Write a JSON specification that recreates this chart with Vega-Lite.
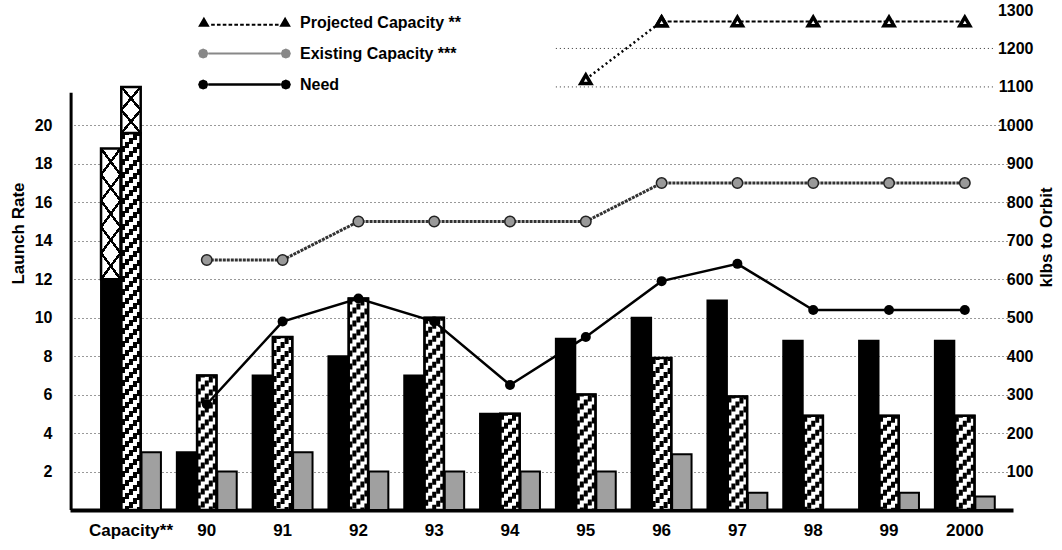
{
  "$schema": "https://vega.github.io/schema/vega-lite/v6.json",
  "width": 943,
  "height": 500,
  "autosize": {"type": "none"},
  "padding": {"left": 70, "top": 10, "right": 49, "bottom": 40},
  "background": "white",
  "config": {
    "view": {"stroke": null},
    "font": "Liberation Sans",
    "axis": {"labelFont": "Liberation Sans", "titleFont": "Liberation Sans", "labelFontWeight": "bold", "titleFontWeight": "bold", "labelColor": "black", "titleColor": "black"}
  },
  "datasets": {
    "bars": [
      {"year": "Capacity**", "series": "A", "v": 12}, {"year": "Capacity**", "series": "B", "v": 19.6}, {"year": "Capacity**", "series": "C", "v": 3},
      {"year": "90", "series": "A", "v": 3}, {"year": "90", "series": "B", "v": 7}, {"year": "90", "series": "C", "v": 2},
      {"year": "91", "series": "A", "v": 7}, {"year": "91", "series": "B", "v": 9}, {"year": "91", "series": "C", "v": 3},
      {"year": "92", "series": "A", "v": 8}, {"year": "92", "series": "B", "v": 11}, {"year": "92", "series": "C", "v": 2},
      {"year": "93", "series": "A", "v": 7}, {"year": "93", "series": "B", "v": 10}, {"year": "93", "series": "C", "v": 2},
      {"year": "94", "series": "A", "v": 5}, {"year": "94", "series": "B", "v": 5}, {"year": "94", "series": "C", "v": 2},
      {"year": "95", "series": "A", "v": 8.9}, {"year": "95", "series": "B", "v": 6}, {"year": "95", "series": "C", "v": 2},
      {"year": "96", "series": "A", "v": 10}, {"year": "96", "series": "B", "v": 7.9}, {"year": "96", "series": "C", "v": 2.9},
      {"year": "97", "series": "A", "v": 10.9}, {"year": "97", "series": "B", "v": 5.9}, {"year": "97", "series": "C", "v": 0.9},
      {"year": "98", "series": "A", "v": 8.8}, {"year": "98", "series": "B", "v": 4.9},
      {"year": "99", "series": "A", "v": 8.8}, {"year": "99", "series": "B", "v": 4.9}, {"year": "99", "series": "C", "v": 0.9},
      {"year": "2000", "series": "A", "v": 8.8}, {"year": "2000", "series": "B", "v": 4.9}, {"year": "2000", "series": "C", "v": 0.7}
    ],
    "tops": [
      {"year": "Capacity**", "series": "A", "lo": 12, "hi": 18.8},
      {"year": "Capacity**", "series": "B", "lo": 19.6, "hi": 22}
    ],
    "lines": [
      {"year": "90", "ord": 1990, "series": "Need", "k": 275},
      {"year": "91", "ord": 1991, "series": "Need", "k": 490},
      {"year": "92", "ord": 1992, "series": "Need", "k": 550},
      {"year": "93", "ord": 1993, "series": "Need", "k": 490},
      {"year": "94", "ord": 1994, "series": "Need", "k": 325},
      {"year": "95", "ord": 1995, "series": "Need", "k": 450},
      {"year": "96", "ord": 1996, "series": "Need", "k": 595},
      {"year": "97", "ord": 1997, "series": "Need", "k": 640},
      {"year": "98", "ord": 1998, "series": "Need", "k": 520},
      {"year": "99", "ord": 1999, "series": "Need", "k": 520},
      {"year": "2000", "ord": 2000, "series": "Need", "k": 520},
      {"year": "90", "ord": 1990, "series": "Existing", "k": 650},
      {"year": "91", "ord": 1991, "series": "Existing", "k": 650},
      {"year": "92", "ord": 1992, "series": "Existing", "k": 750},
      {"year": "93", "ord": 1993, "series": "Existing", "k": 750},
      {"year": "94", "ord": 1994, "series": "Existing", "k": 750},
      {"year": "95", "ord": 1995, "series": "Existing", "k": 750},
      {"year": "96", "ord": 1996, "series": "Existing", "k": 850},
      {"year": "97", "ord": 1997, "series": "Existing", "k": 850},
      {"year": "98", "ord": 1998, "series": "Existing", "k": 850},
      {"year": "99", "ord": 1999, "series": "Existing", "k": 850},
      {"year": "2000", "ord": 2000, "series": "Existing", "k": 850}
    ],
    "proj": [
      {"year": "95", "ord": 1995, "seg": "a", "k": 1120},
      {"year": "96", "ord": 1996, "seg": "a", "k": 1270},
      {"year": "96", "ord": 1996, "seg": "b", "k": 1270},
      {"year": "97", "ord": 1997, "seg": "b", "k": 1270},
      {"year": "98", "ord": 1998, "seg": "b", "k": 1270},
      {"year": "99", "ord": 1999, "seg": "b", "k": 1270},
      {"year": "2000", "ord": 2000, "seg": "b", "k": 1270}
    ],
    "grid": [{"g": 1100}, {"g": 1200}],
    "axisline": [{"lo": 0, "hi": 21.7}],
    "legend": [{"s": "Projected Capacity **"}, {"s": "Existing Capacity ***"}, {"s": "Need"}]
  },
  "layer": [
    {
      "layer": [
        {
          "data": {"name": "bars"},
          "mark": {"type": "bar", "stroke": "black", "strokeWidth": 2},
          "encoding": {
            "x": {
              "field": "year", "type": "nominal",
              "scale": {"domain": ["Capacity**", "90", "91", "92", "93", "94", "95", "96", "97", "98", "99", "2000"], "paddingInner": 0.21, "paddingOuter": 0.325, "align": 0.63},
              "axis": {"title": null, "labelAngle": 0, "labelFontSize": 17, "labelPadding": 12, "ticks": false, "domainWidth": 4, "domainColor": "black", "grid": false}
            },
            "xOffset": {"field": "series", "type": "nominal", "scale": {"domain": ["A", "B", "C"], "paddingInner": 0.04, "paddingOuter": 0}},
            "y": {
              "field": "v", "type": "quantitative",
              "scale": {"domain": [0, 26], "nice": false, "zero": true},
              "axis": {"orient": "left", "title": "Launch Rate", "values": [2, 4, 6, 8, 10, 12, 14, 16, 18, 20], "labelFontSize": 16, "labelPadding": 18, "ticks": false, "domain": false, "grid": true, "gridDash": [1, 3], "gridColor": "#333", "gridWidth": 1, "titleFontSize": 17, "titleAngle": 270, "titleX": -52, "titleY": 223, "titleBaseline": "middle", "titleAlign": "center"}
            },
            "fill": {"field": "series", "type": "nominal", "scale": {"domain": ["A", "B", "C"], "range": ["black", "white", "#a0a0a0"]}, "legend": null}
          }
        },
        {
          "data": {"name": "axisline"},
          "mark": {"type": "rule", "stroke": "black", "strokeWidth": 3},
          "encoding": {
            "x": {"datum": "Capacity**", "type": "nominal", "bandPosition": -0.5},
            "y": {"field": "hi", "type": "quantitative"},
            "y2": {"field": "lo"}
          }
        },
        {
          "data": {"name": "bars"},
          "transform": [{"filter": "datum.series == 'B'"}],
          "mark": {"type": "rule", "stroke": "black", "strokeWidth": 4, "strokeDash": [6, 7], "strokeDashOffset": 0, "strokeCap": "butt"},
          "encoding": {"x": {"field": "year", "type": "nominal", "bandPosition": 0.3664}, "y": {"field": "v", "type": "quantitative"}, "y2": {"datum": 0}}
        },
        {
          "data": {"name": "bars"},
          "transform": [{"filter": "datum.series == 'B'"}],
          "mark": {"type": "rule", "stroke": "black", "strokeWidth": 4, "strokeDash": [6, 7], "strokeDashOffset": 4, "strokeCap": "butt"},
          "encoding": {"x": {"field": "year", "type": "nominal", "bandPosition": 0.4332}, "y": {"field": "v", "type": "quantitative"}, "y2": {"datum": 0}}
        },
        {
          "data": {"name": "bars"},
          "transform": [{"filter": "datum.series == 'B'"}],
          "mark": {"type": "rule", "stroke": "black", "strokeWidth": 4, "strokeDash": [6, 7], "strokeDashOffset": 8, "strokeCap": "butt"},
          "encoding": {"x": {"field": "year", "type": "nominal", "bandPosition": 0.5}, "y": {"field": "v", "type": "quantitative"}, "y2": {"datum": 0}}
        },
        {
          "data": {"name": "bars"},
          "transform": [{"filter": "datum.series == 'B'"}],
          "mark": {"type": "rule", "stroke": "black", "strokeWidth": 4, "strokeDash": [6, 7], "strokeDashOffset": 12, "strokeCap": "butt"},
          "encoding": {"x": {"field": "year", "type": "nominal", "bandPosition": 0.5668}, "y": {"field": "v", "type": "quantitative"}, "y2": {"datum": 0}}
        },
        {
          "data": {"name": "bars"},
          "transform": [{"filter": "datum.series == 'B'"}],
          "mark": {"type": "rule", "stroke": "black", "strokeWidth": 3.6, "strokeDash": [6, 7], "strokeDashOffset": 16, "strokeCap": "butt"},
          "encoding": {"x": {"field": "year", "type": "nominal", "bandPosition": 0.6302}, "y": {"field": "v", "type": "quantitative"}, "y2": {"datum": 0}}
        },
        {
          "data": {"name": "bars"},
          "transform": [{"filter": "datum.series == 'B'"}],
          "mark": {"type": "bar", "fill": null, "fillOpacity": 0, "stroke": "black", "strokeWidth": 2.5},
          "encoding": {"x": {"field": "year", "type": "nominal"}, "xOffset": {"field": "series", "type": "nominal"}, "y": {"field": "v", "type": "quantitative"}}
        },
        {
          "data": {"name": "tops"},
          "mark": {"type": "bar", "fill": "white", "stroke": "black", "strokeWidth": 2.5},
          "encoding": {
            "x": {"field": "year", "type": "nominal"},
            "xOffset": {"field": "series", "type": "nominal"},
            "y": {"field": "hi", "type": "quantitative"},
            "y2": {"field": "lo"}
          }
        },
        {
          "data": {"name": "tops"},
          "transform": [{"filter": "datum.series == 'A'"}],
          "mark": {"type": "bar", "strokeWidth": 0, "fill": {"gradient": "linear", "x1": 1, "y1": 0, "x2": 0.7692, "y2": 1.1538, "stops": [
            {"offset": 0, "color": "black"}, {"offset": 0.013, "color": "black"}, {"offset": 0.013, "color": "rgba(0,0,0,0)"},
            {"offset": 0.154, "color": "rgba(0,0,0,0)"}, {"offset": 0.154, "color": "black"}, {"offset": 0.18, "color": "black"}, {"offset": 0.18, "color": "rgba(0,0,0,0)"},
            {"offset": 0.32, "color": "rgba(0,0,0,0)"}, {"offset": 0.32, "color": "black"}, {"offset": 0.346, "color": "black"}, {"offset": 0.346, "color": "rgba(0,0,0,0)"},
            {"offset": 0.487, "color": "rgba(0,0,0,0)"}, {"offset": 0.487, "color": "black"}, {"offset": 0.513, "color": "black"}, {"offset": 0.513, "color": "rgba(0,0,0,0)"},
            {"offset": 0.654, "color": "rgba(0,0,0,0)"}, {"offset": 0.654, "color": "black"}, {"offset": 0.68, "color": "black"}, {"offset": 0.68, "color": "rgba(0,0,0,0)"},
            {"offset": 0.82, "color": "rgba(0,0,0,0)"}, {"offset": 0.82, "color": "black"}, {"offset": 0.846, "color": "black"}, {"offset": 0.846, "color": "rgba(0,0,0,0)"},
            {"offset": 0.987, "color": "rgba(0,0,0,0)"}, {"offset": 0.987, "color": "black"}, {"offset": 1, "color": "black"}]}},
          "encoding": {
            "x": {"field": "year", "type": "nominal"},
            "xOffset": {"field": "series", "type": "nominal"},
            "y": {"field": "hi", "type": "quantitative"},
            "y2": {"field": "lo"}
          }
        },
        {
          "data": {"name": "tops"},
          "transform": [{"filter": "datum.series == 'A'"}],
          "mark": {"type": "bar", "strokeWidth": 0, "fill": {"gradient": "linear", "x1": 0, "y1": 0, "x2": 0.2308, "y2": 1.1538, "stops": [
            {"offset": 0, "color": "black"}, {"offset": 0.013, "color": "black"}, {"offset": 0.013, "color": "rgba(0,0,0,0)"},
            {"offset": 0.154, "color": "rgba(0,0,0,0)"}, {"offset": 0.154, "color": "black"}, {"offset": 0.18, "color": "black"}, {"offset": 0.18, "color": "rgba(0,0,0,0)"},
            {"offset": 0.32, "color": "rgba(0,0,0,0)"}, {"offset": 0.32, "color": "black"}, {"offset": 0.346, "color": "black"}, {"offset": 0.346, "color": "rgba(0,0,0,0)"},
            {"offset": 0.487, "color": "rgba(0,0,0,0)"}, {"offset": 0.487, "color": "black"}, {"offset": 0.513, "color": "black"}, {"offset": 0.513, "color": "rgba(0,0,0,0)"},
            {"offset": 0.654, "color": "rgba(0,0,0,0)"}, {"offset": 0.654, "color": "black"}, {"offset": 0.68, "color": "black"}, {"offset": 0.68, "color": "rgba(0,0,0,0)"},
            {"offset": 0.82, "color": "rgba(0,0,0,0)"}, {"offset": 0.82, "color": "black"}, {"offset": 0.846, "color": "black"}, {"offset": 0.846, "color": "rgba(0,0,0,0)"},
            {"offset": 0.987, "color": "rgba(0,0,0,0)"}, {"offset": 0.987, "color": "black"}, {"offset": 1, "color": "black"}]}},
          "encoding": {
            "x": {"field": "year", "type": "nominal"},
            "xOffset": {"field": "series", "type": "nominal"},
            "y": {"field": "hi", "type": "quantitative"},
            "y2": {"field": "lo"}
          }
        },
        {
          "data": {"name": "tops"},
          "transform": [{"filter": "datum.series == 'B'"}],
          "mark": {"type": "bar", "strokeWidth": 0, "fill": {"gradient": "linear", "x1": 1, "y1": 0, "x2": 0.4, "y2": 1.2, "stops": [
            {"offset": 0, "color": "black"}, {"offset": 0.028, "color": "black"}, {"offset": 0.028, "color": "rgba(0,0,0,0)"},
            {"offset": 0.305, "color": "rgba(0,0,0,0)"}, {"offset": 0.305, "color": "black"}, {"offset": 0.361, "color": "black"}, {"offset": 0.361, "color": "rgba(0,0,0,0)"},
            {"offset": 0.639, "color": "rgba(0,0,0,0)"}, {"offset": 0.639, "color": "black"}, {"offset": 0.695, "color": "black"}, {"offset": 0.695, "color": "rgba(0,0,0,0)"},
            {"offset": 0.972, "color": "rgba(0,0,0,0)"}, {"offset": 0.972, "color": "black"}, {"offset": 1, "color": "black"}]}},
          "encoding": {
            "x": {"field": "year", "type": "nominal"},
            "xOffset": {"field": "series", "type": "nominal"},
            "y": {"field": "hi", "type": "quantitative"},
            "y2": {"field": "lo"}
          }
        },
        {
          "data": {"name": "tops"},
          "transform": [{"filter": "datum.series == 'B'"}],
          "mark": {"type": "bar", "strokeWidth": 0, "fill": {"gradient": "linear", "x1": 0, "y1": 0, "x2": 0.6, "y2": 1.2, "stops": [
            {"offset": 0, "color": "black"}, {"offset": 0.028, "color": "black"}, {"offset": 0.028, "color": "rgba(0,0,0,0)"},
            {"offset": 0.305, "color": "rgba(0,0,0,0)"}, {"offset": 0.305, "color": "black"}, {"offset": 0.361, "color": "black"}, {"offset": 0.361, "color": "rgba(0,0,0,0)"},
            {"offset": 0.639, "color": "rgba(0,0,0,0)"}, {"offset": 0.639, "color": "black"}, {"offset": 0.695, "color": "black"}, {"offset": 0.695, "color": "rgba(0,0,0,0)"},
            {"offset": 0.972, "color": "rgba(0,0,0,0)"}, {"offset": 0.972, "color": "black"}, {"offset": 1, "color": "black"}]}},
          "encoding": {
            "x": {"field": "year", "type": "nominal"},
            "xOffset": {"field": "series", "type": "nominal"},
            "y": {"field": "hi", "type": "quantitative"},
            "y2": {"field": "lo"}
          }
        }
      ]
    },
    {
      "layer": [
        {
          "data": {"name": "grid"},
          "mark": {"type": "rule", "stroke": "#333", "strokeDash": [1, 3], "strokeWidth": 1},
          "encoding": {
            "x": {"datum": "95", "type": "nominal", "bandPosition": 0},
            "x2": {"datum": "2000", "bandPosition": 1},
            "y": {
              "field": "g", "type": "quantitative",
              "scale": {"domain": [0, 1300], "nice": false, "zero": true},
              "axis": {"orient": "right", "title": "klbs to Orbit", "format": "d", "values": [100, 200, 300, 400, 500, 600, 700, 800, 900, 1000, 1100, 1200, 1300], "labelFontSize": 16, "labelPadding": 20, "labelAlign": "right", "ticks": false, "domain": false, "grid": false, "titleFontSize": 17, "titleAngle": 270, "titleX": 33, "titleY": 227, "titleBaseline": "middle", "titleAlign": "center"}
            }
          }
        },
        {
          "data": {"name": "lines"},
          "transform": [{"filter": "datum.series == 'Existing'"}],
          "mark": {"type": "line", "stroke": "#333", "strokeWidth": 3, "strokeDash": [3, 1]},
          "encoding": {
            "x": {"field": "year", "type": "nominal"},
            "y": {"field": "k", "type": "quantitative"},
            "order": {"field": "ord", "type": "quantitative"}
          }
        },
        {
          "data": {"name": "lines"},
          "transform": [{"filter": "datum.series == 'Existing'"}],
          "mark": {"type": "point", "filled": true, "fill": "#999", "stroke": "#222", "strokeWidth": 1.5, "size": 110, "opacity": 1},
          "encoding": {
            "x": {"field": "year", "type": "nominal"},
            "y": {"field": "k", "type": "quantitative"}
          }
        },
        {
          "data": {"name": "lines"},
          "transform": [{"filter": "datum.series == 'Need'"}],
          "mark": {"type": "line", "stroke": "black", "strokeWidth": 2.5},
          "encoding": {
            "x": {"field": "year", "type": "nominal"},
            "y": {"field": "k", "type": "quantitative"},
            "order": {"field": "ord", "type": "quantitative"}
          }
        },
        {
          "data": {"name": "lines"},
          "transform": [{"filter": "datum.series == 'Need'"}],
          "mark": {"type": "point", "filled": true, "fill": "black", "size": 100, "opacity": 1},
          "encoding": {
            "x": {"field": "year", "type": "nominal"},
            "y": {"field": "k", "type": "quantitative"}
          }
        },
        {
          "data": {"name": "proj"},
          "transform": [{"filter": "datum.seg == 'a'"}],
          "mark": {"type": "line", "stroke": "black", "strokeWidth": 2.5, "strokeDash": [2, 3]},
          "encoding": {
            "x": {"field": "year", "type": "nominal"},
            "y": {"field": "k", "type": "quantitative"},
            "order": {"field": "ord", "type": "quantitative"}
          }
        },
        {
          "data": {"name": "proj"},
          "transform": [{"filter": "datum.seg == 'b'"}],
          "mark": {"type": "line", "stroke": "black", "strokeWidth": 2, "strokeDash": [4, 2]},
          "encoding": {
            "x": {"field": "year", "type": "nominal"},
            "y": {"field": "k", "type": "quantitative"},
            "order": {"field": "ord", "type": "quantitative"}
          }
        },
        {
          "data": {"name": "proj"},
          "mark": {"type": "point", "shape": "triangle-up", "filled": true, "fill": "white", "stroke": "black", "strokeWidth": 3.5, "size": 100, "opacity": 1},
          "encoding": {
            "x": {"field": "year", "type": "nominal"},
            "y": {"field": "k", "type": "quantitative"}
          }
        },
        {
          "data": {"name": "legend"},
          "mark": {"type": "point", "filled": true, "opacity": 0, "stroke": "black", "strokeWidth": 1.5},
          "encoding": {
            "shape": {
              "field": "s", "type": "nominal",
              "scale": {
                "domain": ["Projected Capacity **", "Existing Capacity ***", "Need"],
                "range": [
                  "M-3.2,0.3L-2.8,-0.4L-2.4,0.3Z M-2.3,0.08L-2.05,0.08L-2.05,0.22L-2.3,0.22Z M-1.9,0.08L-1.65,0.08L-1.65,0.22L-1.9,0.22Z M-1.5,0.08L-1.25,0.08L-1.25,0.22L-1.5,0.22Z M-1.1,0.08L-0.85,0.08L-0.85,0.22L-1.1,0.22Z M-0.7,0.08L-0.45,0.08L-0.45,0.22L-0.7,0.22Z M-0.3,0.08L-0.05,0.08L-0.05,0.22L-0.3,0.22Z M0.1,0.08L0.35,0.08L0.35,0.22L0.1,0.22Z M0.5,0.08L0.75,0.08L0.75,0.22L0.5,0.22Z M0.9,0.08L1.15,0.08L1.15,0.22L0.9,0.22Z M1.3,0.08L1.55,0.08L1.55,0.22L1.3,0.22Z M1.7,0.08L1.95,0.08L1.95,0.22L1.7,0.22Z M2.1,0.08L2.35,0.08L2.35,0.22L2.1,0.22Z M2.4,0.3L2.8,-0.4L3.2,0.3Z",
                  "M-2.5,0L-2.6,0.25L-2.85,0.35L-3.1,0.25L-3.2,0L-3.1,-0.25L-2.85,-0.35L-2.6,-0.25Z M-2.5,-0.07L2.5,-0.07L2.5,0.07L-2.5,0.07Z M3.2,0L3.1,0.25L2.85,0.35L2.6,0.25L2.5,0L2.6,-0.25L2.85,-0.35L3.1,-0.25Z",
                  "M-2.5,0L-2.6,0.25L-2.85,0.35L-3.1,0.25L-3.2,0L-3.1,-0.25L-2.85,-0.35L-2.6,-0.25Z M-2.5,-0.08L2.5,-0.08L2.5,0.08L-2.5,0.08Z M3.2,0L3.1,0.25L2.85,0.35L2.6,0.25L2.5,0L2.6,-0.25L2.85,-0.35L3.1,-0.25Z"
                ]
              },
              "legend": {"title": null, "orient": "none", "legendX": 159, "legendY": -3, "symbolSize": 841, "symbolOpacity": 1, "symbolStrokeColor": "black", "symbolStrokeWidth": 1.5, "labelFont": "Liberation Sans", "labelFontWeight": "bold", "labelFontSize": 16, "labelColor": "black", "labelOffset": 40, "labelLimit": 400, "rowPadding": 7, "padding": 0}
            },
            "fill": {
              "field": "s", "type": "nominal",
              "scale": {"domain": ["Projected Capacity **", "Existing Capacity ***", "Need"], "range": ["black", "#888", "black"]},
              "legend": {"title": null, "orient": "none", "legendX": 159, "legendY": -3, "symbolSize": 841, "symbolOpacity": 1, "symbolStrokeColor": "black", "symbolStrokeWidth": 1.5, "labelFont": "Liberation Sans", "labelFontWeight": "bold", "labelFontSize": 16, "labelColor": "black", "labelOffset": 40, "labelLimit": 400, "rowPadding": 7, "padding": 0}
            }
          }
        }
      ]
    }
  ],
  "resolve": {"scale": {"y": "independent", "fill": "independent", "shape": "independent"}}
}
